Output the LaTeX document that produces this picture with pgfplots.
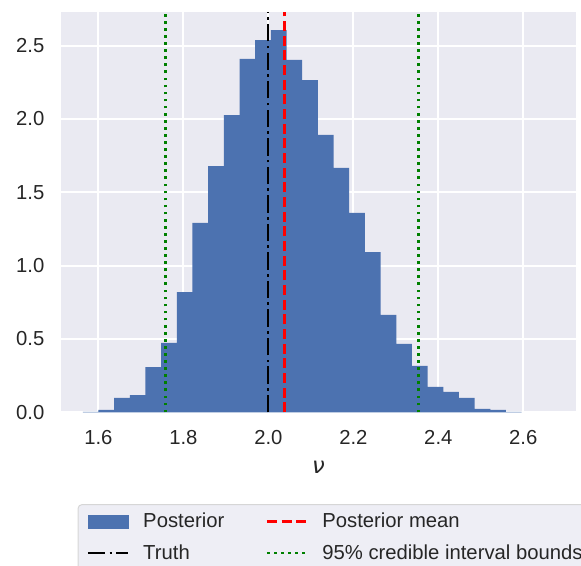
\documentclass[border=0pt]{standalone}
\usepackage{fontspec}
\setmainfont{Liberation Sans}
\newfontfamily\dejavu{DejaVu Sans}
\usepackage{pgfplots}
\pgfplotsset{compat=1.18}
\definecolor{barcol}{HTML}{4C72B0}
\definecolor{bgcol}{HTML}{EAEAF2}
\definecolor{txtcol}{HTML}{262626}
\definecolor{legfill}{HTML}{EEEEF5}
\definecolor{legedge}{HTML}{D6D6D6}
\definecolor{mplgreen}{HTML}{008000}
\definecolor{mplred}{HTML}{FF0000}
\tikzset{
  meanline/.style={mplred, line width=2pt, dash pattern=on 7.5pt off 3.5pt},
  truthline/.style={black, line width=2pt, dash pattern=on 13pt off 3.2pt on 2pt off 3.2pt},
  ciline/.style={mplgreen, line width=2pt, dash pattern=on 2pt off 3.3pt},
}
\begin{document}
\begin{tikzpicture}
\begin{axis}[
  scale only axis, width=386.25pt, height=300.45pt,
  xmin=1.512, xmax=2.724, ymin=0, ymax=2.731,
  xtick={1.6,1.8,2.0,2.2,2.4,2.6},
  ytick={0,0.5,1.0,1.5,2.0,2.5},
  axis background/.style={fill=bgcol},
  axis line style={draw=none},
  major tick length=0pt,
  grid=major,
  major grid style={white, line width=1.5pt},
  ticklabel style={font=\fontsize{15.2}{18}\selectfont, text=txtcol},
  /pgf/number format/fixed, /pgf/number format/fixed zerofill,
  /pgf/number format/precision=1, /pgf/number format/assume math mode=true,
  xticklabel style={yshift=-10pt},
  yticklabel style={xshift=-9pt},
  xlabel={\dejavu\itshape ν},
  xlabel style={at={(axis description cs:0.5,0)}, anchor=center, yshift=-41pt, font=\fontsize{17}{20}\selectfont, text=txtcol},
  legend columns=2,
  legend cell align=left,
  legend style={at={(0.0321,-0.229)}, anchor=north west, fill=legfill, draw=legedge,
    line width=0.75pt, rounded corners=3pt, font=\fontsize{15.2}{18}\selectfont, text=txtcol,
    inner xsep=6.4pt, inner ysep=6.5pt, column sep=10.5pt, row sep=11pt,
    nodes={inner sep=0pt},
    /tikz/every even column/.append style={column sep=31pt}},
]
\coordinate (ll) at (rel axis cs:0,0);
\addplot[ybar interval, fill=barcol, draw=none,
  legend image code/.code={\path[fill=barcol, sharp corners] (0pt,-5.25pt) rectangle (30.5pt,5.25pt);}]
  coordinates {
  (1.5632,0.003) (1.6001,0.016) (1.6370,0.098) (1.6739,0.118) (1.7108,0.309)
  (1.7477,0.473) (1.7845,0.820) (1.8214,1.291) (1.8583,1.679) (1.8952,2.027)
  (1.9321,2.409) (1.9690,2.538) (2.0059,2.606) (2.0428,2.402) (2.0797,2.265)
  (2.1166,1.891) (2.1534,1.666) (2.1903,1.359) (2.2272,1.093) (2.2641,0.664)
  (2.3010,0.466) (2.3379,0.316) (2.3748,0.173) (2.4117,0.139) (2.4486,0.098)
  (2.4855,0.023) (2.5223,0.016) (2.5592,0.003) (2.5961,0.003)
  };
\addlegendentry{Posterior}
\addplot[meanline,
  legend image code/.code={\draw[meanline, sharp corners] (0pt,0pt) -- (30pt,0pt);}]
  coordinates {(2.0377,0) (2.0377,2.731)};
\addlegendentry{Posterior mean}
\addplot[truthline,
  legend image code/.code={\draw[truthline, sharp corners] (0pt,0pt) -- (30pt,0pt);}]
  coordinates {(1.9990,0) (1.9990,2.731)};
\addlegendentry{Truth}
\addplot[ciline,
  legend image code/.code={\draw[ciline, sharp corners] (0pt,0pt) -- (30pt,0pt);}]
  coordinates {(1.7586,0) (1.7586,2.731)};
\addlegendentry{95\% credible interval bounds}
\addplot[ciline, forget plot]
  coordinates {(2.3530,0) (2.3530,2.731)};
\end{axis}
\pgfresetboundingbox
\path[use as bounding box] ([xshift=-45.75pt,yshift=-114.5pt]ll) rectangle ([xshift=390pt,yshift=309.25pt]ll);
\end{tikzpicture}
\end{document}
